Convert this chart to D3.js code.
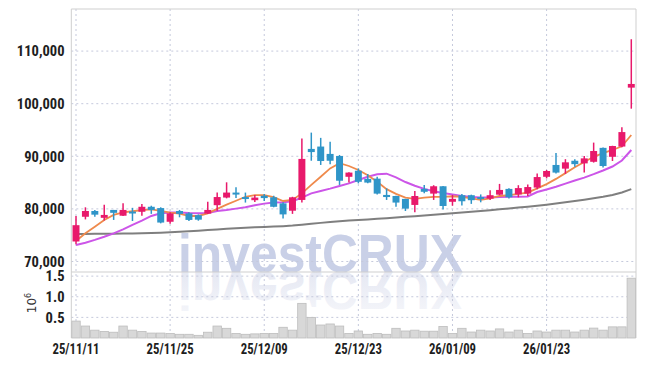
<!DOCTYPE html>
<html>
<head>
<meta charset="utf-8">
<script src="https://cdn.jsdelivr.net/npm/d3@7"></script>
<style>
  body { margin: 0; background: #fff; }
  svg { display: block; }
  .tick text { font-family: "Roboto Condensed", "DejaVu Sans Condensed", sans-serif; font-weight: bold; fill: #1e1e1e; }
</style>
</head>
<body>
<div id="chart"></div>
<script>
const dates = [
  "25/11/11","25/11/12","25/11/13","25/11/14","25/11/17","25/11/18","25/11/19","25/11/20","25/11/21","25/11/24",
  "25/11/25","25/11/26","25/11/27","25/11/28","25/12/01","25/12/02","25/12/03","25/12/04","25/12/05","25/12/08",
  "25/12/09","25/12/10","25/12/11","25/12/12","25/12/15","25/12/16","25/12/17","25/12/18","25/12/19","25/12/22",
  "25/12/23","25/12/24","25/12/26","25/12/29","25/12/30","26/01/02","26/01/05","26/01/06","26/01/07","26/01/08",
  "26/01/09","26/01/12","26/01/13","26/01/14","26/01/15","26/01/16","26/01/19","26/01/20","26/01/21","26/01/22",
  "26/01/23","26/01/26","26/01/27","26/01/28","26/01/29","26/01/30","26/02/02","26/02/03","26/02/04","26/02/05"
];
const dateTicks = ["25/11/11","25/11/25","25/12/09","25/12/23","26/01/09","26/01/23"];

const opens = [
  73800,78500,79600,78300,79800,78700,79500,79450,80400,80150,
  77550,79600,79150,78800,79100,80700,82150,83100,82250,81650,
  82500,82200,81050,79650,81700,91400,91850,90450,90050,86100,
  87250,85700,85750,82650,82450,81900,80750,83800,82900,84300,
  81350,82600,82600,82250,81950,82700,83800,82750,82900,84050,
  86100,88350,87650,89150,88650,88950,91600,89900,91850,103050
];
const highs = [
  78650,80300,79800,80800,79800,81050,80200,80950,80600,80300,
  79350,79800,79350,78950,81350,83100,85050,84100,83100,82650,
  82850,82500,81250,82300,93400,94500,93500,92750,90250,86950,
  87700,86650,86100,83900,82500,81900,83400,84550,84500,84350,
  82650,82850,82700,82750,83550,84750,83900,84500,84650,86750,
  87400,90600,89450,89450,90050,92600,91650,92000,95500,112250
];
const lows = [
  73270,78000,78500,77800,77900,78650,77700,78700,79050,77250,
  77150,78400,77700,77750,79050,79650,82000,82050,81200,81300,
  81500,80300,78150,79050,81200,89150,88350,88500,84550,85000,
  84850,84850,82750,81700,80400,79600,79350,82950,81700,79900,
  80600,80650,80950,81250,81700,82600,81950,82200,82450,83750,
  85800,86750,86650,88000,86900,88800,87850,89100,91700,99050
];
const closes = [
  76900,79600,78900,78850,79250,79800,79300,80400,79800,77400,
  79150,79050,77900,77950,79800,82250,83100,82900,82050,82150,
  82050,80400,78950,82200,89500,90800,89100,89150,85350,86900,
  85150,85000,82900,82250,81200,80050,82450,83250,84300,80550,
  81900,81450,81650,81900,82600,83600,82200,83950,84150,86050,
  87200,86900,88850,88500,89600,91000,88150,91950,94600,103750
];
const volume = [
  410000,290000,190000,160000,140000,290000,190000,160000,120000,120000,
  110000,90000,90000,65000,140000,290000,235000,110000,90000,100000,
  110000,110000,260000,190000,840000,500000,315000,340000,290000,110000,
  170000,90000,110000,90000,235000,170000,190000,165000,165000,280000,
  110000,235000,145000,190000,170000,220000,145000,190000,110000,170000,
  145000,190000,190000,145000,190000,240000,190000,270000,270000,1450000
];
const ma5 = [
  73900,75350,76600,77900,78850,79350,79550,79750,79900,79600,
  79300,79100,78650,78650,79150,80000,80800,81550,82300,82600,
  82600,82250,81500,81700,82950,84550,86100,87700,88700,88150,
  87400,86400,85150,83750,82850,82150,81900,82150,82300,82300,
  82400,82300,82000,81700,82000,82450,82600,82850,83100,83900,
  84700,85700,86800,87900,88900,89900,90600,91200,91900,94050
];
const ma20 = [
  73150,73550,74100,74700,75350,76100,76950,77750,78650,79150,
  79300,79300,79200,79150,79200,79600,79800,80050,80300,80700,
  81000,81200,81250,81450,82150,82950,83400,83850,84350,84850,
  85500,86100,86600,86700,86000,85100,84400,83800,83350,83000,
  82750,82450,82250,82150,82150,82250,82300,82300,82350,83200,
  83700,84200,84800,85400,85950,86600,87300,88050,89200,91200
];
const ma120 = [
  75230,75240,75250,75260,75270,75300,75330,75370,75420,75480,
  75560,75650,75750,75860,75980,76100,76220,76330,76420,76500,
  76570,76640,76720,76830,76990,77170,77340,77500,77640,77770,
  77890,78000,78110,78230,78360,78490,78620,78760,78900,79030,
  79160,79300,79450,79600,79760,79920,80080,80240,80410,80600,
  80800,81010,81240,81480,81730,82000,82290,82640,83120,83750
];
const priceTicks = [70000, 80000, 90000, 100000, 110000];
const volTicks = [500000, 1000000, 1500000];

const W = 645, H = 366;
const plotLeft = 71.3, plotRight = 636, plotTop = 9, priceBottom = 272, volBottom = 338;
const upColor = "#e8196b", downColor = "#2f95c8";
const gridColor = "#c5c9dc";

const svg = d3.select("#chart").append("svg")
  .attr("width", W).attr("height", H)
  .attr("viewBox", `0 0 ${W} ${H}`);

const x = d3.scaleBand().domain(dates).range([plotLeft, plotRight]).padding(0);
const y = d3.scaleLinear().domain([68000, 118000]).range([priceBottom, plotTop]);
const yv = d3.scaleLinear().domain([0, 1600000]).range([volBottom, priceBottom]);
const cx = d => x(d) + x.bandwidth() / 2;

// watermark + mirrored reflection (reflection is a <use> of the same text)
const defs = svg.append("defs");
const grad = defs.append("linearGradient").attr("id", "fade")
  .attr("x1", 0).attr("y1", 0).attr("x2", 0).attr("y2", 1);
grad.append("stop").attr("offset", "0%").attr("stop-color", "#e2e5f1").attr("stop-opacity", 0.3);
grad.append("stop").attr("offset", "100%").attr("stop-color", "#e2e5f1").attr("stop-opacity", 1);

const wm = svg.append("g").attr("fill", "#c9d0e7");
wm.append("text").attr("id", "wmText").attr("x", 178).attr("y", 272)
  .style("font-family", "'Liberation Sans', Arial, sans-serif")
  .style("font-weight", "bold").style("font-size", "54px")
  .attr("textLength", 285).attr("lengthAdjust", "spacingAndGlyphs")
  .text("investCRUX");
svg.append("use").attr("href", "#wmText")
  .attr("transform", `translate(0,${2 * 272}) scale(1,-1)`)
  .attr("fill", "url(#fade)");

// grid
const grid = svg.append("g").attr("stroke", gridColor).attr("stroke-dasharray", "2,3");
grid.selectAll(".hp").data(priceTicks).join("line")
  .attr("x1", plotLeft).attr("x2", plotRight).attr("y1", d => y(d)).attr("y2", d => y(d));
grid.selectAll(".hv").data(volTicks).join("line")
  .attr("x1", plotLeft).attr("x2", plotRight).attr("y1", d => yv(d)).attr("y2", d => yv(d));
grid.selectAll(".vx").data(dateTicks).join("line")
  .attr("x1", d => cx(d)).attr("x2", d => cx(d)).attr("y1", plotTop).attr("y2", volBottom);

// frame
svg.append("path")
  .attr("d", `M${plotLeft},${volBottom}V${plotTop}H${plotRight}V${volBottom}`)
  .attr("fill", "none").attr("stroke", "#cfcfcf");
svg.append("line").attr("x1", plotLeft).attr("x2", plotRight)
  .attr("y1", priceBottom).attr("y2", priceBottom).attr("stroke", "#cfcfcf");

// volume bars
svg.append("g").selectAll("rect").data(dates).join("rect")
  .attr("x", d => x(d) + 0.5)
  .attr("y", (d, i) => yv(volume[i]))
  .attr("width", x.bandwidth() - 1)
  .attr("height", (d, i) => volBottom - yv(volume[i]))
  .attr("fill", "#d8d8d8").attr("stroke", "#bdbdbd").attr("stroke-width", 0.8);

// moving averages
const line = arr => d3.line().x((d, i) => cx(dates[i])).y(d => y(d))(arr);
svg.append("path").attr("d", line(ma120)).attr("fill", "none").attr("stroke", "#7f7f7f").attr("stroke-width", 2);
svg.append("path").attr("d", line(ma20)).attr("fill", "none").attr("stroke", "#cc55e8").attr("stroke-width", 2);
svg.append("path").attr("d", line(ma5)).attr("fill", "none").attr("stroke", "#ef8a4c").attr("stroke-width", 1.8);

// candles
const bw = x.bandwidth() * 0.74;
const isUp = i => closes[i] >= opens[i];
const candles = svg.append("g").selectAll("g").data(dates).join("g")
  .attr("fill", (d, i) => isUp(i) ? upColor : downColor)
  .attr("stroke", (d, i) => isUp(i) ? upColor : downColor);
candles.append("line")
  .attr("x1", d => cx(d)).attr("x2", d => cx(d))
  .attr("y1", (d, i) => y(highs[i])).attr("y2", (d, i) => y(lows[i]))
  .attr("stroke-width", 1.5);
candles.append("rect")
  .attr("x", d => cx(d) - bw / 2)
  .attr("y", (d, i) => y(Math.max(opens[i], closes[i])))
  .attr("width", bw)
  .attr("height", (d, i) => Math.max(2, Math.abs(y(opens[i]) - y(closes[i]))))
  .attr("stroke", "none");

// axes (condensed look: squeeze the labels horizontally)
const yAxis = d3.axisLeft(y).tickValues(priceTicks).tickFormat(d3.format(",")).tickSize(0).tickPadding(7);
svg.append("g").attr("transform", `translate(${plotLeft},0)`).call(yAxis)
  .call(g => g.select(".domain").remove())
  .selectAll("text").style("font-size", "15px").attr("transform", "scale(0.97,1)");

const vAxis = d3.axisLeft(yv).tickValues(volTicks).tickFormat(d => (d / 1e6).toFixed(1)).tickSize(0).tickPadding(7);
svg.append("g").attr("transform", `translate(${plotLeft},0)`).call(vAxis)
  .call(g => g.select(".domain").remove())
  .selectAll("text").style("font-size", "15px").attr("transform", "scale(0.97,1)");

const xAxis = d3.axisBottom(x).tickValues(dateTicks).tickSize(0).tickPadding(5);
svg.append("g").attr("transform", `translate(0,${volBottom})`).call(xAxis)
  .call(g => g.select(".domain").remove())
  .selectAll("text").style("font-size", "15px").attr("transform", "scale(0.85,1)");

// volume unit label
const unit = svg.append("text")
  .attr("transform", "translate(36,303) rotate(-90)")
  .attr("text-anchor", "middle")
  .style("font-family", "'DejaVu Sans', sans-serif").style("font-size", "12px").attr("fill", "#333");
unit.append("tspan").text("10");
unit.append("tspan").attr("dy", -5).style("font-size", "8px").text("6");
</script>
</body>
</html>
